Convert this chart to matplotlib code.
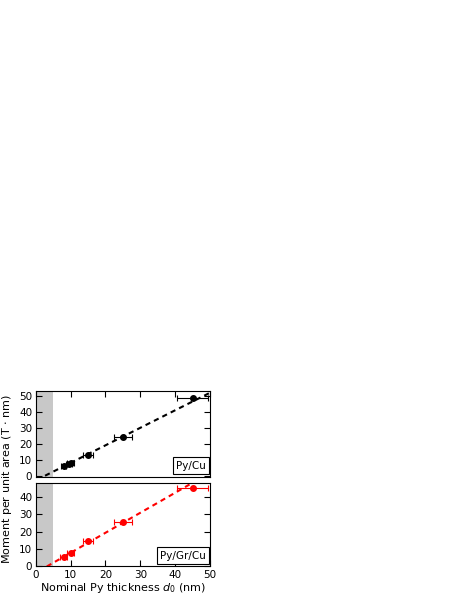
import matplotlib
matplotlib.use("Agg")
import matplotlib.pyplot as plt

# Py/Cu
x_cu = [8, 9.5, 10, 15, 25, 45]
y_cu = [6.2, 7.3, 8.0, 13.0, 24.0, 48.5]
xerr_cu = [0.8, 0.8, 1.0, 1.5, 2.5, 4.5]
fit_cu_x = [2.7, 50]
fit_cu_y = [0, 52]

# Py/Gr/Cu
x_gr = [8, 10, 15, 25, 45]
y_gr = [5.5, 8.0, 14.8, 25.5, 45.0]
xerr_gr = [1.0, 1.0, 1.5, 2.5, 4.5]
fit_gr_x = [3.2, 44.6]
fit_gr_y = [0, 47.5]

plt.rcParams['font.family'] = ['DejaVu Sans']
plt.rcParams['font.size'] = 7.5

fig = plt.figure(figsize=(4.63, 5.99), dpi=100)
ax1 = fig.add_axes([0.077, 0.2045, 0.3766, 0.1425])
ax2 = fig.add_axes([0.077, 0.0543, 0.3766, 0.1399])

for ax in (ax1, ax2):
    ax.axvspan(0, 5, color='#c8c8c8', lw=0, zorder=0)
    ax.set_xlim(0, 50)
    ax.tick_params(direction='in', length=4, width=0.8, labelsize=7.5, pad=2.5,
                   right=True, top=True)
    ax.set_xticks([0, 10, 20, 30, 40, 50])
    for s in ax.spines.values():
        s.set_linewidth(0.8)

ax1.plot(fit_cu_x, fit_cu_y, '--', color='black', lw=1.5, dashes=(2.5, 2))
ax1.errorbar(x_cu, y_cu, xerr=xerr_cu, fmt='o', color='black', ms=4,
             elinewidth=0.8, capsize=2.5, capthick=0.8)
ax1.set_ylim(-0.5, 53)
ax1.set_yticks([0, 10, 20, 30, 40, 50])
ax1.tick_params(axis='x', bottom=False, labelbottom=False)
ax1.text(0.975, 0.07, 'Py/Cu', transform=ax1.transAxes, ha='right', va='bottom',
         fontsize=7.5, bbox=dict(boxstyle='square,pad=0.3', fc='white', ec='black', lw=0.8))

ax2.plot(fit_gr_x, fit_gr_y, '--', color='red', lw=1.5, dashes=(2.5, 2))
ax2.errorbar(x_gr, y_gr, xerr=xerr_gr, fmt='o', color='red', ms=4,
             elinewidth=0.8, capsize=2.5, capthick=0.8)
ax2.set_ylim(0, 48)
ax2.set_yticks([0, 10, 20, 30, 40])
ax2.tick_params(axis='x', top=False)
ax2.text(0.975, 0.07, 'Py/Gr/Cu', transform=ax2.transAxes, ha='right', va='bottom',
         fontsize=7.5, bbox=dict(boxstyle='square,pad=0.3', fc='white', ec='black', lw=0.8))
ax2.set_xlabel('Nominal Py thickness $d_0$ (nm)', fontsize=8, labelpad=1)

fig.text(0.016, 0.2, 'Moment per unit area (T $\\cdot$ nm)', rotation=90,
         ha='center', va='center', fontsize=8)

fig.savefig('out.png', dpi=100)
